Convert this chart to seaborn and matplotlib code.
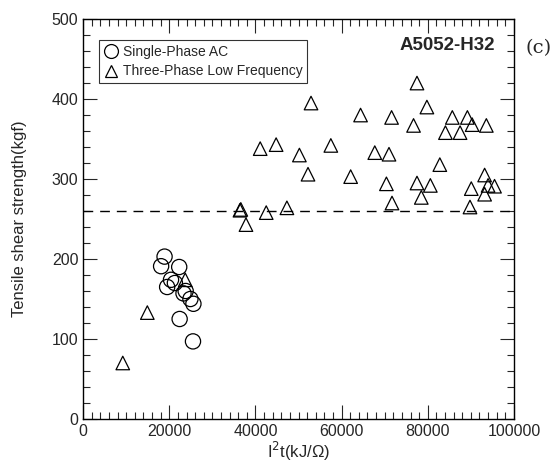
import pandas as pd
import seaborn as sns
import matplotlib.pyplot as plt
from matplotlib.ticker import MultipleLocator
from matplotlib.lines import Line2D

# data
single_x = [18900, 18100, 22300, 20400, 21300, 19500, 23300, 24900, 25600, 22400, 25500, 23800]
single_y = [203, 191, 190, 174, 170, 165, 157, 150, 144, 125, 97, 160]

three_x = [9200, 14900, 23700, 36400, 36600, 37800, 42500, 47300, 41100, 44800,
           50200, 52200, 52900, 57500, 62100, 64400, 67700, 71000, 70400, 71700,
           71600, 76700, 77500, 77500, 78500, 79800, 80600, 82800, 84100, 85700,
           87500, 89200, 90300, 93600, 90100, 89800, 93200, 94000, 95500, 93200]
three_y = [70, 133, 174, 261, 262, 243, 258, 264, 338, 343,
           330, 306, 395, 342, 303, 380, 333, 331, 294, 270,
           377, 367, 420, 295, 277, 390, 292, 318, 358, 377,
           358, 377, 368, 367, 288, 265, 305, 292, 291, 281]

ref_level = 260

single = pd.DataFrame({'x': single_x, 'y': single_y})
three = pd.DataFrame({'x': three_x, 'y': three_y})

sns.set_style('ticks')
plt.rcParams['font.family'] = ['Liberation Sans', 'DejaVu Sans']

fig = plt.figure(figsize=(5.58, 4.65), dpi=100)
ax = fig.add_axes([0.149, 0.099, 0.772, 0.86])

sns.scatterplot(data=single, x='x', y='y', marker='o', s=120,
                facecolor='none', edgecolor='black', linewidth=0.9, ax=ax)
sns.scatterplot(data=three, x='x', y='y', marker='^', s=95,
                facecolor='none', edgecolor='black', linewidth=0.9, ax=ax)

ax.axhline(ref_level, color='black', lw=1.0, ls=(0, (7, 5)))

ax.set_xlim(0, 100000)
ax.set_ylim(0, 500)
ax.xaxis.set_major_locator(MultipleLocator(20000))
ax.xaxis.set_minor_locator(MultipleLocator(2000))
ax.yaxis.set_major_locator(MultipleLocator(100))
ax.yaxis.set_minor_locator(MultipleLocator(20))
ax.tick_params(which='both', direction='in', top=True, right=True,
               labelsize=11.5, width=0.8)
ax.tick_params(which='major', length=10)
ax.tick_params(which='minor', length=5)
for sp in ax.spines.values():
    sp.set_linewidth(1.0)
    sp.set_color('black')

ax.set_xlabel('I$^2$t(kJ/Ω)', fontsize=12, labelpad=1)
ax.set_ylabel('Tensile shear strength(kgf)', fontsize=12, labelpad=18)

handles = [
    Line2D([], [], marker='o', ls='none', mfc='none', mec='black', ms=10, mew=0.9),
    Line2D([], [], marker='^', ls='none', mfc='none', mec='black', ms=9, mew=0.9),
]
leg = ax.legend(handles, ['Single-Phase AC', 'Three-Phase Low Frequency'],
                loc='upper left', bbox_to_anchor=(0.037, 0.9475), borderaxespad=0,
                fancybox=False, edgecolor='black', fontsize=10, handletextpad=0.35,
                handlelength=1.0, borderpad=0.35, labelspacing=0.4)
leg.get_frame().set_linewidth(0.8)

ax.text(0.955, 0.935, 'A5052-H32', transform=ax.transAxes, ha='right', va='center',
        fontsize=13.5, fontweight='bold')
fig.text(0.965, 0.897, '(c)', fontsize=14, family='DejaVu Serif', va='center', ha='center')

fig.savefig('out.png', dpi=100)
